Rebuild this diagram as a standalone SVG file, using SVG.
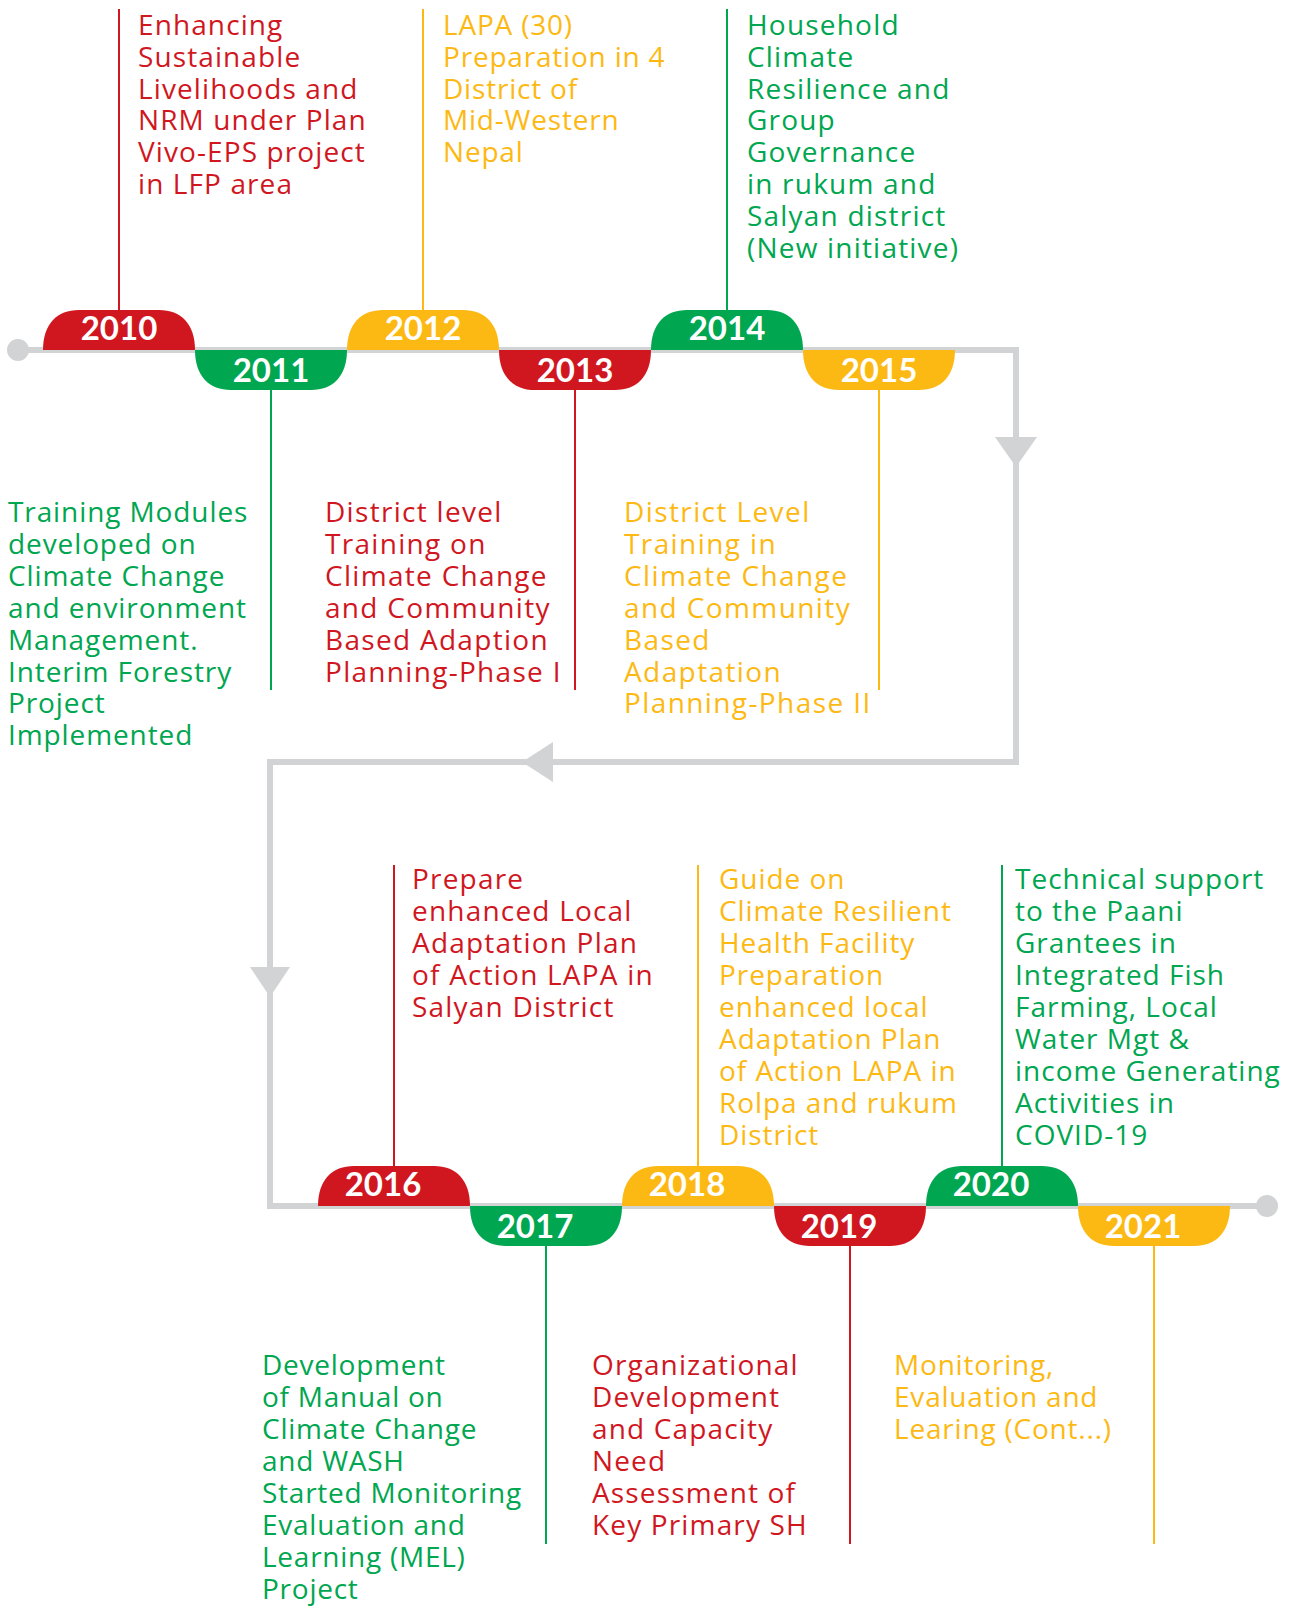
<svg xmlns="http://www.w3.org/2000/svg" width="1294" height="1606" viewBox="0 0 1294 1606">
<style>
.t{font-family:"Open Sans",Lato,"Liberation Sans",sans-serif;font-size:28px;letter-spacing:1px}
.y{font-family:Lato,"Liberation Sans",sans-serif;font-size:33px;font-weight:bold;fill:#fff;text-anchor:middle}
.red{fill:#D0171F}.grn{fill:#00A650}.yel{fill:#FDB913}
.sr{stroke:#D0171F;stroke-width:2}.sg{stroke:#00A650;stroke-width:2}.sy{stroke:#FDB913;stroke-width:2}
.track{fill:none;stroke:#D1D3D4;stroke-width:6}
.arr{fill:#D1D3D4}
</style>
<defs>
<path id="up" d="M-76,0 C-76,-26 -62,-40 -40,-40 H40 C62,-40 76,-26 76,0 Z"/>
<path id="dn" d="M-76,0 C-76,26 -62,40 -40,40 H40 C62,40 76,26 76,0 Z"/>
</defs>
<g id="connectors">
<polyline class="track" points="18,350 1016,350 1016,762 270,762 270,1206 1267,1206"/>
<circle class="arr" cx="18" cy="350" r="11"/>
<circle class="arr" cx="1267" cy="1206" r="11"/>
<polygon class="arr" points="995,437 1037,437 1016,467"/>
<polygon class="arr" points="553,742 553,782 522,762"/>
<polygon class="arr" points="250,967 290,967 270,997"/>
</g>
<g id="y2010">
<line class="sr" x1="119" y1="9" x2="119" y2="312"/>
<use href="#up" x="119" y="350" class="red"/>
<text class="y" x="119" y="340">2010</text>
<text class="t red" style="letter-spacing:1.1px" x="138" y="35">Enhancing<tspan x="138" dy="31.8">Sustainable</tspan><tspan x="138" dy="31.8">Livelihoods and</tspan><tspan x="138" dy="31.8">NRM under Plan</tspan><tspan x="138" dy="31.8">Vivo-EPS project</tspan><tspan x="138" dy="31.8">in LFP area</tspan></text>
</g>
<g id="y2011">
<line class="sg" x1="271" y1="388" x2="271" y2="690"/>
<use href="#dn" x="271" y="350" class="grn"/>
<text class="y" x="271" y="382">2011</text>
<text class="t grn" style="letter-spacing:0.9px" x="8" y="522">Training Modules<tspan x="8" dy="31.9">developed on</tspan><tspan x="8" dy="31.9">Climate Change</tspan><tspan x="8" dy="31.9">and environment</tspan><tspan x="8" dy="31.9">Management.</tspan><tspan x="8" dy="31.9">Interim Forestry</tspan><tspan x="8" dy="31.9">Project</tspan><tspan x="8" dy="31.9">Implemented</tspan></text>
</g>
<g id="y2012">
<line class="sy" x1="423" y1="9" x2="423" y2="312"/>
<use href="#up" x="423" y="350" class="yel"/>
<text class="y" x="423" y="340">2012</text>
<text class="t yel" style="letter-spacing:0.8px" x="443" y="35">LAPA (30)<tspan x="443" dy="31.8">Preparation in 4</tspan><tspan x="443" dy="31.8">District of</tspan><tspan x="443" dy="31.8">Mid-Western</tspan><tspan x="443" dy="31.8">Nepal</tspan></text>
</g>
<g id="y2013">
<line class="sr" x1="575" y1="388" x2="575" y2="690"/>
<use href="#dn" x="575" y="350" class="red"/>
<text class="y" x="575" y="382">2013</text>
<text class="t red" style="letter-spacing:1.3px" x="325" y="522">District level<tspan x="325" dy="31.9">Training on</tspan><tspan x="325" dy="31.9">Climate Change</tspan><tspan x="325" dy="31.9">and Community</tspan><tspan x="325" dy="31.9">Based Adaption</tspan><tspan x="325" dy="31.9">Planning-Phase I</tspan></text>
</g>
<g id="y2014">
<line class="sg" x1="727" y1="9" x2="727" y2="312"/>
<use href="#up" x="727" y="350" class="grn"/>
<text class="y" x="727" y="340">2014</text>
<text class="t grn" style="letter-spacing:1.2px" x="747" y="35">Household<tspan x="747" dy="31.8">Climate</tspan><tspan x="747" dy="31.8">Resilience and</tspan><tspan x="747" dy="31.8">Group</tspan><tspan x="747" dy="31.8">Governance</tspan><tspan x="747" dy="31.8">in rukum and</tspan><tspan x="747" dy="31.8">Salyan district</tspan><tspan x="747" dy="31.8">(New initiative)</tspan></text>
</g>
<g id="y2015">
<line class="sy" x1="879" y1="388" x2="879" y2="690"/>
<use href="#dn" x="879" y="350" class="yel"/>
<text class="y" x="879" y="382">2015</text>
<text class="t yel" style="letter-spacing:1.4px" x="624" y="522">District Level<tspan x="624" dy="31.9">Training in</tspan><tspan x="624" dy="31.9">Climate Change</tspan><tspan x="624" dy="31.9">and Community</tspan><tspan x="624" dy="31.9">Based</tspan><tspan x="624" dy="31.9">Adaptation</tspan><tspan x="624" dy="31.9">Planning-Phase II</tspan></text>
</g>
<g id="y2016">
<line class="sr" x1="394" y1="865" x2="394" y2="1168"/>
<use href="#up" x="394" y="1206" class="red"/>
<text class="y" x="383" y="1196">2016</text>
<text class="t red" style="letter-spacing:1.2px" x="412" y="889">Prepare<tspan x="412" dy="32">enhanced Local</tspan><tspan x="412" dy="32">Adaptation Plan</tspan><tspan x="412" dy="32">of Action LAPA in</tspan><tspan x="412" dy="32">Salyan District</tspan></text>
</g>
<g id="y2017">
<line class="sg" x1="546" y1="1244" x2="546" y2="1544"/>
<use href="#dn" x="546" y="1206" class="grn"/>
<text class="y" x="535" y="1238">2017</text>
<text class="t grn" style="letter-spacing:0.75px" x="262" y="1375">Development<tspan x="262" dy="32">of Manual on</tspan><tspan x="262" dy="32">Climate Change</tspan><tspan x="262" dy="32">and WASH</tspan><tspan x="262" dy="32">Started Monitoring</tspan><tspan x="262" dy="32">Evaluation and</tspan><tspan x="262" dy="32">Learning (MEL)</tspan><tspan x="262" dy="32">Project</tspan></text>
</g>
<g id="y2018">
<line class="sy" x1="698" y1="865" x2="698" y2="1168"/>
<use href="#up" x="698" y="1206" class="yel"/>
<text class="y" x="687" y="1196">2018</text>
<text class="t yel" style="letter-spacing:0.95px" x="719" y="889">Guide on<tspan x="719" dy="32">Climate Resilient</tspan><tspan x="719" dy="32">Health Facility</tspan><tspan x="719" dy="32">Preparation</tspan><tspan x="719" dy="32">enhanced local</tspan><tspan x="719" dy="32">Adaptation Plan</tspan><tspan x="719" dy="32">of Action LAPA in</tspan><tspan x="719" dy="32">Rolpa and rukum</tspan><tspan x="719" dy="32">District</tspan></text>
</g>
<g id="y2019">
<line class="sr" x1="850" y1="1244" x2="850" y2="1544"/>
<use href="#dn" x="850" y="1206" class="red"/>
<text class="y" x="839" y="1238">2019</text>
<text class="t red" style="letter-spacing:1.15px" x="592" y="1375">Organizational<tspan x="592" dy="32">Development</tspan><tspan x="592" dy="32">and Capacity</tspan><tspan x="592" dy="32">Need</tspan><tspan x="592" dy="32">Assessment of</tspan><tspan x="592" dy="32">Key Primary SH</tspan></text>
</g>
<g id="y2020">
<line class="sg" x1="1002" y1="865" x2="1002" y2="1168"/>
<use href="#up" x="1002" y="1206" class="grn"/>
<text class="y" x="991" y="1196">2020</text>
<text class="t grn" style="letter-spacing:1px" x="1015" y="889">Technical support<tspan x="1015" dy="32">to the Paani</tspan><tspan x="1015" dy="32">Grantees in</tspan><tspan x="1015" dy="32">Integrated Fish</tspan><tspan x="1015" dy="32">Farming, Local</tspan><tspan x="1015" dy="32">Water Mgt &amp;</tspan><tspan x="1015" dy="32">income Generating</tspan><tspan x="1015" dy="32">Activities in</tspan><tspan x="1015" dy="32">COVID-19</tspan></text>
</g>
<g id="y2021">
<line class="sy" x1="1154" y1="1244" x2="1154" y2="1544"/>
<use href="#dn" x="1154" y="1206" class="yel"/>
<text class="y" x="1143" y="1238">2021</text>
<text class="t yel" style="letter-spacing:0.8px" x="894" y="1375">Monitoring,<tspan x="894" dy="32">Evaluation and</tspan><tspan x="894" dy="32">Learing (Cont...)</tspan></text>
</g>
</svg>
